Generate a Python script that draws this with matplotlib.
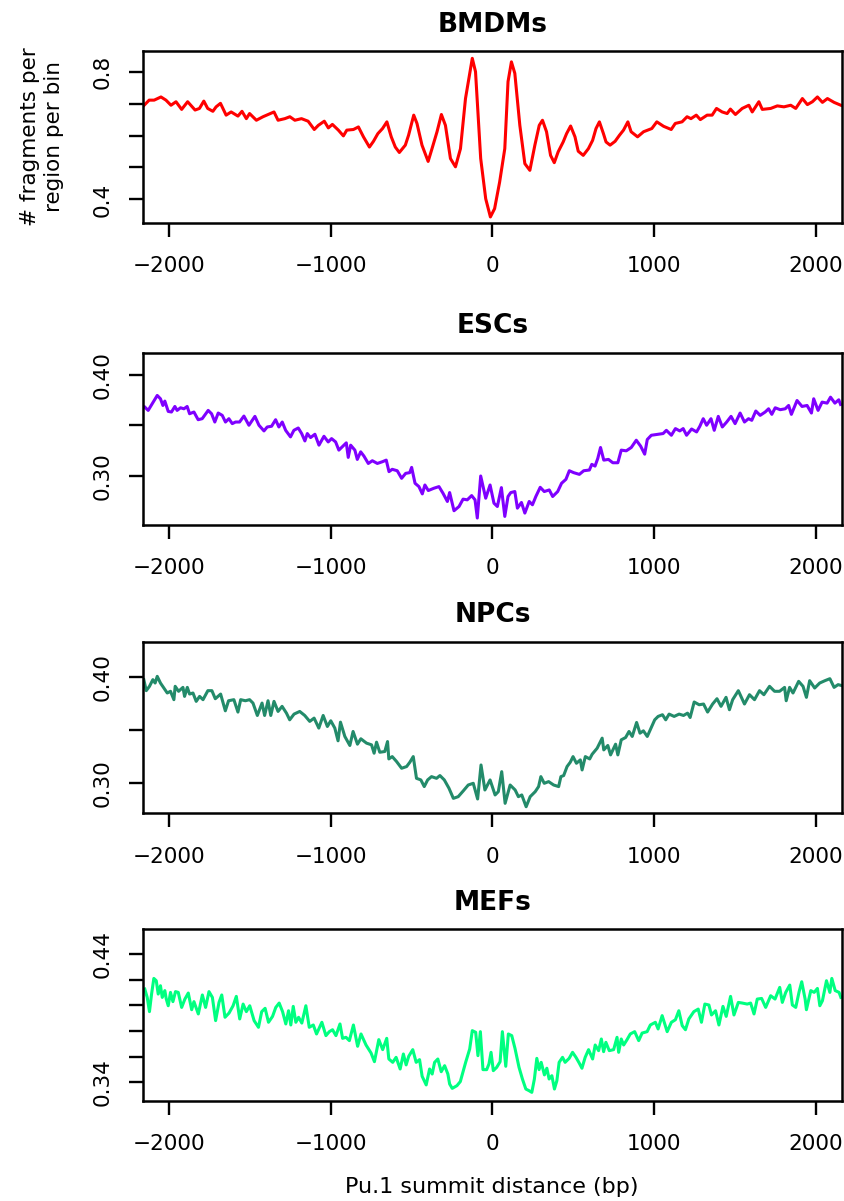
import matplotlib
matplotlib.use("Agg")
import matplotlib.pyplot as plt

plt.rcParams['font.family'] = ['DejaVu Sans']

# ---------------- data ----------------
titles = ["BMDMs", "ESCs", "NPCs", "MEFs"]
line_colors = ["#FF0000", "#7F00FF", "#238B6A", "#00FF80"]

x_ticks = [-2000, -1000, 0, 1000, 2000]
x_tick_labels = ["\u22122000", "\u22121000", "0", "1000", "2000"]
x_label = "Pu.1 summit distance (bp)"
y_label = "# fragments per\nregion per bin"

bmdm_x = [-2153, -2122, -2091, -2049, -2018, -1987, -1956, -1921, -1884, -1838,
          -1811, -1784, -1760, -1728, -1708, -1681, -1646, -1615, -1573, -1548,
          -1521, -1501, -1459, -1418, -1387, -1350, -1325, -1283, -1252, -1221,
          -1180, -1139, -1101, -1076, -1039, -1014, -989, -952, -921, -900,
          -859, -828, -797, -760, -735, -708, -679, -652, -625, -600,
          -575, -538, -518, -486, -466, -435, -397, -373, -342, -315,
          -290, -259, -228, -197, -166, -124, -104, -72, -41,
          -12, 14, 45, 77, 97, 118, 139, 170, 201, 232,
          263, 290, 310, 335, 360, 383, 407, 438, 459, 484,
          511, 531, 562, 594, 620, 641, 662, 687, 703, 728,
          759, 786, 811, 838, 858, 898, 935, 986, 1017, 1059,
          1106, 1131, 1173, 1204, 1228, 1261, 1286, 1328, 1359, 1386,
          1421, 1452, 1472, 1503, 1545, 1586, 1607, 1648, 1669, 1721,
          1762, 1803, 1845, 1876, 1917, 1948, 1979, 2010, 2041, 2072,
          2113, 2155]
bmdm_y = [0.695, 0.711, 0.711, 0.721, 0.711, 0.695, 0.706, 0.682, 0.706, 0.680,
          0.685, 0.708, 0.685, 0.676, 0.690, 0.701, 0.664, 0.674, 0.661, 0.676,
          0.653, 0.669, 0.648, 0.659, 0.666, 0.674, 0.648, 0.653, 0.659, 0.648,
          0.653, 0.645, 0.619, 0.632, 0.645, 0.624, 0.635, 0.617, 0.599, 0.617,
          0.619, 0.627, 0.596, 0.564, 0.582, 0.606, 0.622, 0.643, 0.596, 0.564,
          0.547, 0.570, 0.601, 0.664, 0.638, 0.570, 0.519, 0.559, 0.612, 0.666,
          0.632, 0.528, 0.502, 0.559, 0.716, 0.842, 0.800, 0.528, 0.402,
          0.345, 0.371, 0.454, 0.559, 0.769, 0.831, 0.795, 0.632, 0.512, 0.491,
          0.570, 0.632, 0.648, 0.612, 0.538, 0.515, 0.549, 0.580, 0.606, 0.630,
          0.596, 0.551, 0.538, 0.559, 0.585, 0.622, 0.643, 0.606, 0.580, 0.570,
          0.582, 0.601, 0.617, 0.643, 0.612, 0.596, 0.612, 0.622, 0.643, 0.629,
          0.619, 0.638, 0.643, 0.659, 0.653, 0.664, 0.650, 0.664, 0.664, 0.685,
          0.674, 0.669, 0.683, 0.666, 0.685, 0.695, 0.674, 0.706, 0.682, 0.685,
          0.693, 0.690, 0.695, 0.685, 0.716, 0.697, 0.706, 0.721, 0.704, 0.716,
          0.704, 0.695]

esc_x = [-2149, -2128, -2103, -2072, -2052, -2037, -2025, -2004, -1984, -1963,
         -1949, -1928, -1907, -1887, -1872, -1845, -1819, -1794, -1757, -1736,
         -1716, -1695, -1670, -1650, -1629, -1608, -1588, -1563, -1536, -1505,
         -1468, -1443, -1412, -1392, -1365, -1340, -1320, -1299, -1278, -1248,
         -1227, -1200, -1179, -1159, -1144, -1124, -1097, -1072, -1041, -1015,
         -994, -969, -949, -918, -903, -891, -876, -850, -835, -814,
         -794, -767, -742, -711, -680, -656, -639, -619, -588, -561,
         -536, -511, -499, -478, -454, -433, -417, -396, -361, -330,
         -305, -278, -264, -237, -206, -181, -155, -128, -107, -93,
         -72,
         -41, -14, 10, 31, 56, 77, 97, 114, 139, 155,
         180, 201, 228, 248, 269, 296, 321, 352, 373, 404,
         428, 455, 476, 503, 538, 565, 600, 615, 635, 652,
         669, 689, 718, 745, 776, 797, 828, 859, 890, 917,
         942, 958, 983, 1025, 1056, 1076, 1107, 1132, 1159, 1180,
         1201, 1232, 1263, 1283, 1304, 1325, 1352, 1372, 1397, 1422,
         1449, 1476, 1501, 1532, 1559, 1584, 1604, 1629, 1656, 1687,
         1708, 1728, 1749, 1780, 1811, 1832, 1849, 1884, 1915, 1946,
         1973, 1987, 2014, 2039, 2070, 2091, 2118, 2142, 2153]
esc_y = [0.3682, 0.3649, 0.3715, 0.3797, 0.3764, 0.3698, 0.3741, 0.3639, 0.3633, 0.3688,
         0.3649, 0.3675, 0.3665, 0.3688, 0.3616, 0.3633, 0.3557, 0.3567, 0.3649, 0.3616,
         0.3534, 0.3623, 0.3600, 0.3534, 0.3567, 0.3518, 0.3534, 0.3534, 0.3593, 0.3502,
         0.3590, 0.3502, 0.3446, 0.3485, 0.3492, 0.3557, 0.3485, 0.3534, 0.3452, 0.3387,
         0.3452, 0.3475, 0.3420, 0.3347, 0.3420, 0.3380, 0.3413, 0.3305, 0.3393, 0.3337,
         0.3370, 0.3337, 0.3256, 0.3305, 0.3328, 0.3184, 0.3305, 0.3256, 0.3164, 0.3239,
         0.3197, 0.3124, 0.3151, 0.3124, 0.3141, 0.3157, 0.3043, 0.3066, 0.3052, 0.2977,
         0.3026, 0.3033, 0.3085, 0.2928, 0.2895, 0.2823, 0.2911, 0.2856, 0.2879, 0.2895,
         0.2829, 0.2748, 0.2836, 0.2656, 0.2698, 0.2771, 0.2764, 0.2806, 0.2764, 0.2584,
         0.3000,
         0.2780, 0.2911, 0.2731, 0.2698, 0.2885, 0.2600, 0.2797, 0.2836, 0.2846, 0.2682,
         0.2738, 0.2633, 0.2748, 0.2715, 0.2797, 0.2888, 0.2846, 0.2862, 0.2797, 0.2846,
         0.2928, 0.2967, 0.3052, 0.3033, 0.3016, 0.3052, 0.3059, 0.3115, 0.3098, 0.3174,
         0.3282, 0.3157, 0.3164, 0.3131, 0.3131, 0.3256, 0.3249, 0.3282, 0.3354, 0.3295,
         0.3216, 0.3361, 0.3403, 0.3413, 0.3420, 0.3452, 0.3403, 0.3469, 0.3446, 0.3469,
         0.3403, 0.3465, 0.3436, 0.3492, 0.3567, 0.3502, 0.3567, 0.3452, 0.3590, 0.3485,
         0.3534, 0.3590, 0.3518, 0.3623, 0.3534, 0.3567, 0.3551, 0.3643, 0.3600, 0.3633,
         0.3665, 0.3610, 0.3675, 0.3656, 0.3665, 0.3698, 0.3610, 0.3747, 0.3688, 0.3698,
         0.3623, 0.3764, 0.3649, 0.3731, 0.3721, 0.3780, 0.3721, 0.3754, 0.3708]

npc_x = [-2155, -2140, -2120, -2099, -2085, -2072, -2052, -2031, -2010, -1990,
         -1969, -1961, -1940, -1913, -1903, -1886, -1872, -1851, -1831, -1810,
         -1789, -1759, -1734, -1713, -1680, -1651, -1631, -1598, -1573, -1556,
         -1527, -1501, -1480, -1453, -1424, -1408, -1387, -1370, -1350, -1325,
         -1300, -1273, -1253, -1226, -1191, -1160, -1129, -1102, -1073, -1046,
         -1020, -999, -974, -954, -939, -912, -881, -861, -834, -813,
         -778, -747, -731, -716, -696, -665, -648, -640, -619, -592,
         -561, -530, -510, -489, -469, -442, -421, -400, -376, -345,
         -324, -297, -268, -241, -211, -180, -149, -118, -91, -70,
         -46, -14, 17, 37, 58, 79, 110, 141, 161, 182,
         209, 234, 265, 286, 300, 321, 348, 379, 410, 424,
         441, 462, 482, 499, 520, 544, 555, 575, 602, 617,
         648, 679, 689, 714, 731, 762, 776, 797, 824, 845,
         865, 892, 913, 934, 958, 979, 1004, 1025, 1052, 1072,
         1093, 1124, 1155, 1182, 1207, 1223, 1248, 1279, 1306, 1331,
         1362, 1389, 1414, 1445, 1466, 1486, 1521, 1559, 1590, 1621,
         1652, 1679, 1714, 1745, 1776, 1807, 1817, 1838, 1859, 1894,
         1921, 1942, 1962, 1993, 2024, 2056, 2087, 2113, 2138, 2155]
npc_y = [0.3978, 0.3874, 0.3915, 0.3978, 0.3946, 0.4009, 0.3946, 0.3899, 0.3852, 0.3868,
         0.3789, 0.3915, 0.3868, 0.3905, 0.3820, 0.3905, 0.3842, 0.3852, 0.3773, 0.3820,
         0.3789, 0.3874, 0.3874, 0.3798, 0.3842, 0.3684, 0.3779, 0.3789, 0.3672, 0.3789,
         0.3779, 0.3789, 0.3757, 0.3640, 0.3757, 0.3640, 0.3779, 0.3640, 0.3773, 0.3678,
         0.3726, 0.3662, 0.3599, 0.3653, 0.3678, 0.3640, 0.3584, 0.3615, 0.3521, 0.3640,
         0.3536, 0.3590, 0.3521, 0.3401, 0.3577, 0.3442, 0.3357, 0.3489, 0.3369, 0.3420,
         0.3379, 0.3363, 0.3284, 0.3388, 0.3293, 0.3300, 0.3394, 0.3230, 0.3252, 0.3205,
         0.3142, 0.3158, 0.3199, 0.3252, 0.3047, 0.3032, 0.2969, 0.3032, 0.3063, 0.3047,
         0.3073, 0.3032, 0.2953, 0.2858, 0.2874, 0.2928, 0.2984, 0.3000, 0.2852, 0.3173,
         0.2937, 0.3032, 0.2890, 0.2921, 0.3110, 0.2811, 0.2984, 0.2937, 0.2874, 0.2890,
         0.2779, 0.2874, 0.2921, 0.2969, 0.3063, 0.3000, 0.3016, 0.2984, 0.2969, 0.3063,
         0.3073, 0.3158, 0.3199, 0.3252, 0.3189, 0.3221, 0.3126, 0.3252, 0.3230, 0.3274,
         0.3331, 0.3426, 0.3315, 0.3357, 0.3268, 0.3369, 0.3268, 0.3410, 0.3432, 0.3489,
         0.3442, 0.3574, 0.3473, 0.3495, 0.3442, 0.3514, 0.3599, 0.3631, 0.3647, 0.3599,
         0.3653, 0.3631, 0.3653, 0.3640, 0.3662, 0.3621, 0.3767, 0.3741, 0.3748, 0.3672,
         0.3748, 0.3798, 0.3726, 0.3811, 0.3694, 0.3789, 0.3874, 0.3748, 0.3836, 0.3789,
         0.3874, 0.3836, 0.3915, 0.3868, 0.3868, 0.3905, 0.3779, 0.3905, 0.3852, 0.3962,
         0.3915, 0.3811, 0.3968, 0.3899, 0.3946, 0.3968, 0.3987, 0.3905, 0.3931, 0.3924]

mef_x = [-2149, -2134, -2120, -2107, -2093, -2078, -2066, -2052, -2041, -2025,
         -2016, -2004, -1990, -1975, -1959, -1942, -1921, -1901, -1880, -1859,
         -1845, -1818, -1793, -1773, -1752, -1731, -1711, -1690, -1673, -1653,
         -1628, -1603, -1583, -1562, -1541, -1521, -1500, -1473, -1446, -1426,
         -1405, -1384, -1359, -1339, -1318, -1297, -1277, -1260, -1246, -1231,
         -1215, -1198, -1178, -1153, -1132, -1107, -1087, -1054, -1029, -1008,
         -988, -967, -942, -926, -905, -884, -859, -833, -812, -781,
         -750, -729, -702, -678, -653, -640, -616, -595, -570, -550,
         -533, -517, -492, -471, -450, -434, -409, -388, -372, -357,
         -337, -316, -295, -275, -264, -248, -219, -198, -165, -140,
         -124, -103, -89, -74, -58,
         -35, -21, -8, 6, 27, 48, 62, 83, 99, 120,
         140, 165, 186, 207, 227, 244, 260, 275, 289, 302,
         322, 337, 351, 368, 384, 399, 413, 434, 450, 475,
         496, 517, 537, 554, 574, 595, 620, 636, 657, 674,
         688, 702, 723, 750, 771, 781, 797, 812, 833, 853,
         880, 905, 926, 957, 977, 1008, 1025, 1050, 1081, 1107,
         1132, 1153, 1174, 1194, 1215, 1246, 1273, 1293, 1314, 1339,
         1355, 1380, 1401, 1426, 1446, 1473, 1494, 1521, 1545, 1576,
         1597, 1618, 1638, 1665, 1690, 1721, 1748, 1777, 1793, 1814,
         1839, 1855, 1876, 1897, 1913, 1934, 1942, 1969, 1990, 2010,
         2025, 2041, 2066, 2087, 2099, 2120, 2144, 2155]
mef_y = [0.4127, 0.4062, 0.3951, 0.4088, 0.4210, 0.4192, 0.4088, 0.4153, 0.4062, 0.4115,
         0.4049, 0.3997, 0.4101, 0.4029, 0.4107, 0.4101, 0.3984, 0.4049, 0.4096, 0.3966,
         0.4029, 0.3933, 0.4081, 0.3984, 0.4107, 0.4062, 0.3881, 0.4023, 0.4081, 0.3907,
         0.3940, 0.3997, 0.4070, 0.3894, 0.4010, 0.3951, 0.3997, 0.3881, 0.3829, 0.3951,
         0.3977, 0.3868, 0.3914, 0.3984, 0.4018, 0.3951, 0.3855, 0.3958, 0.3847, 0.3992,
         0.3868, 0.3907, 0.3862, 0.3997, 0.3829, 0.3847, 0.3777, 0.3868, 0.3764, 0.3795,
         0.3810, 0.3764, 0.3855, 0.3743, 0.3751, 0.3725, 0.3847, 0.3681, 0.3777, 0.3691,
         0.3629, 0.3561, 0.3733, 0.3655, 0.3743, 0.3582, 0.3556, 0.3595, 0.3504, 0.3621,
         0.3536, 0.3603, 0.3655, 0.3556, 0.3577, 0.3447, 0.3380, 0.3504, 0.3465, 0.3556,
         0.3582, 0.3483, 0.3530, 0.3465, 0.3387, 0.3353, 0.3374, 0.3406, 0.3556, 0.3660,
         0.3803, 0.3790, 0.3608, 0.3795, 0.3499,
         0.3499, 0.3543, 0.3634, 0.3491, 0.3517, 0.3561, 0.3795, 0.3525, 0.3777, 0.3764,
         0.3665, 0.3517, 0.3426, 0.3348, 0.3335, 0.3322, 0.3426, 0.3587, 0.3499, 0.3556,
         0.3458, 0.3510, 0.3426, 0.3452, 0.3348, 0.3413, 0.3556, 0.3595, 0.3556, 0.3587,
         0.3634, 0.3595, 0.3551, 0.3510, 0.3595, 0.3655, 0.3582, 0.3691, 0.3647, 0.3738,
         0.3639, 0.3712, 0.3647, 0.3655, 0.3751, 0.3634, 0.3738, 0.3691, 0.3733, 0.3777,
         0.3795, 0.3725, 0.3784, 0.3795, 0.3847, 0.3868, 0.3816, 0.3920, 0.3795, 0.3868,
         0.3888, 0.3958, 0.3842, 0.3810, 0.3894, 0.3951, 0.3971, 0.3868, 0.4010, 0.4003,
         0.3925, 0.3958, 0.3847, 0.3992, 0.3914, 0.4070, 0.3925, 0.4023, 0.4018, 0.4010,
         0.4018, 0.3933, 0.4049, 0.4054, 0.3984, 0.4075, 0.4049, 0.4140, 0.4023, 0.4101,
         0.4158, 0.4003, 0.3984, 0.4107, 0.4184, 0.4049, 0.3966, 0.4115, 0.4101, 0.4132,
         0.3997, 0.4036, 0.4192, 0.4101, 0.4210, 0.4115, 0.4101, 0.4062]

series_x = [bmdm_x, esc_x, npc_x, mef_x]
series_y = [bmdm_y, esc_y, npc_y, mef_y]

y_limits = [(0.326, 0.865), (0.2515, 0.422), (0.2717, 0.4336), (0.3257, 0.4595)]
y_ticks = [[0.4, 0.5, 0.6, 0.7, 0.8],
           [0.30, 0.35, 0.40],
           [0.30, 0.35, 0.40],
           [0.34, 0.36, 0.38, 0.40, 0.42, 0.44]]
y_tick_labels = [["0.4", "", "", "", "0.8"],
                 ["0.30", "", "0.40"],
                 ["0.30", "", "0.40"],
                 ["0.34", "", "", "", "", "0.44"]]
x_limits = (-2160, 2162)

# ---------------- layout ----------------
W, H = 845, 1201
fig = plt.figure(figsize=(W / 100, H / 100), dpi=100)

ax_left_px, ax_right_px = 143, 842
panel_px = [(51, 223), (352.7, 525), (641.7, 813.3), (929, 1100.7)]  # top, bottom

for i in range(4):
    top, bot = panel_px[i]
    ax = fig.add_axes([ax_left_px / W, 1 - bot / H,
                       (ax_right_px - ax_left_px) / W, (bot - top) / H])
    ax.plot(series_x[i], series_y[i], color=line_colors[i], lw=2.2,
            solid_joinstyle='round')
    ax.set_xlim(*x_limits)
    ax.set_ylim(*y_limits[i])
    ax.set_xticks(x_ticks, labels=x_tick_labels)
    ax.set_yticks(y_ticks[i], labels=y_tick_labels[i])
    for lbl in ax.get_yticklabels():
        lbl.set_rotation(90)
        lbl.set_ha('center')
        lbl.set_va('center')
    ax.tick_params(axis='both', direction='out', length=10, width=1.7,
                   labelsize=15.5, color='black')
    ax.tick_params(axis='x', pad=14)
    ax.tick_params(axis='y', pad=19)
    for s in ax.spines.values():
        s.set_linewidth(1.8)
        s.set_color('black')
    ax.set_title(titles[i], fontsize=19, fontweight='bold', pad=14)

fig.text(42 / W, 1 - 137 / H, y_label, rotation=90, ha='center', va='center',
         fontsize=15.5, linespacing=1.3, multialignment='center')
fig.text(492 / W, 1 - 1193 / H, x_label, ha='center', va='baseline', fontsize=16)

fig.savefig("out.png", dpi=100)
